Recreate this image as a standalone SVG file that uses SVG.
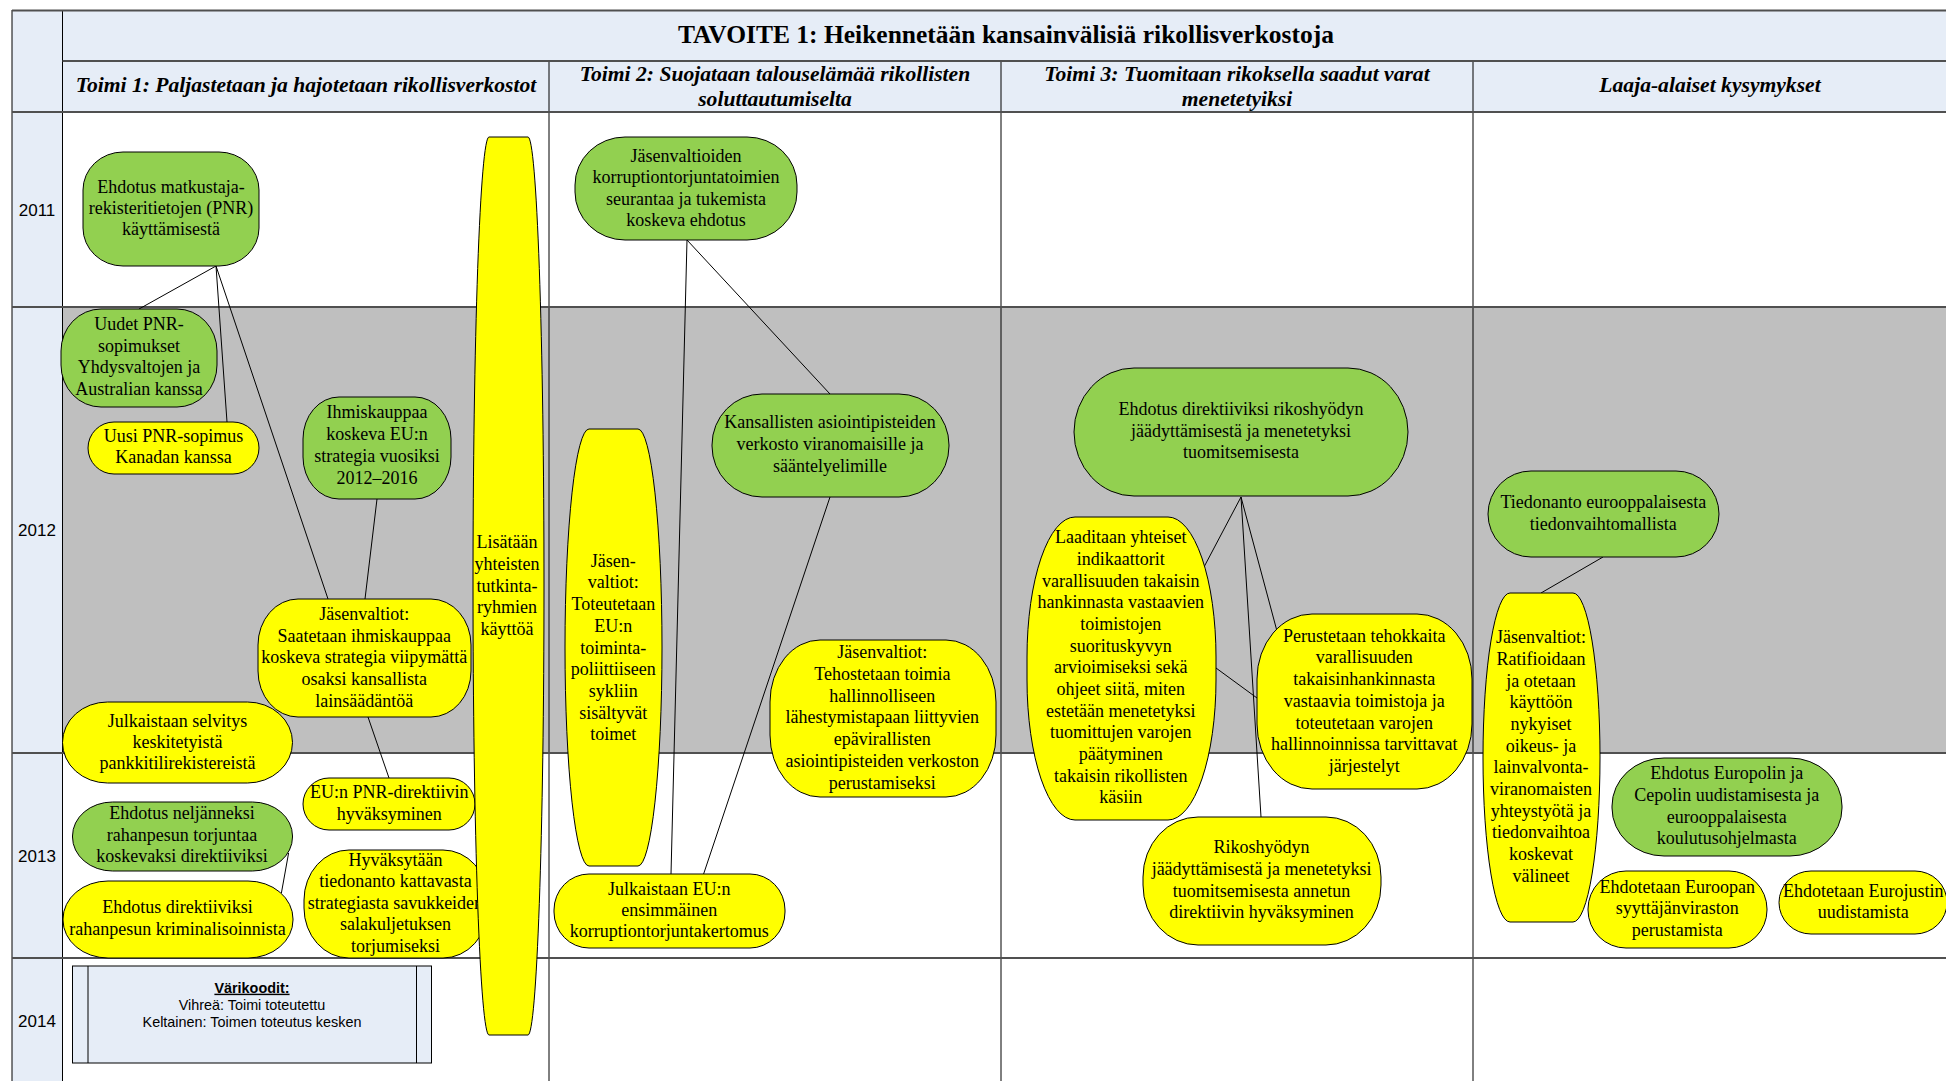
<svg xmlns="http://www.w3.org/2000/svg" width="1946" height="1081" viewBox="0 0 1946 1081">
<style>
.hd{fill:#E6EDF7}
.gray{fill:#BFBFBF}
.hl{stroke:#505050;stroke-width:2;fill:none}
.vl{stroke:#000;stroke-width:1;fill:none}
.g{fill:#92D050;stroke:#000;stroke-width:1}
.y{fill:#FFFF00;stroke:#000;stroke-width:1}
.t{font-family:"Liberation Serif","Times New Roman",serif;font-size:18px;text-anchor:middle;fill:#000}
.ttl{font-family:"Liberation Serif","Times New Roman",serif;font-size:25.5px;font-weight:bold;text-anchor:middle;fill:#000}
.sub{font-family:"Liberation Serif","Times New Roman",serif;font-size:21.6px;font-weight:bold;font-style:italic;text-anchor:middle;fill:#000}
.yr{font-family:"Liberation Sans",Arial,sans-serif;font-size:17px;text-anchor:middle;fill:#000}
.lg{font-family:"Liberation Sans",Arial,sans-serif;font-size:14.4px;text-anchor:middle;fill:#000}
.c{stroke:#000;stroke-width:1;fill:none}
</style>
<rect x="0" y="0" width="1946" height="1081" fill="#fff"/>
<g id="table">
<rect class="hd" x="62.5" y="10" width="1890" height="102"/>
<rect class="hd" x="12" y="10" width="50.5" height="1075"/>
<rect class="gray" x="62.5" y="307" width="1890" height="446"/>
<line class="vl" x1="12" y1="10" x2="12" y2="1085"/>
<line class="vl" x1="62.5" y1="10" x2="62.5" y2="1085"/>
<line class="vl" x1="549" y1="61" x2="549" y2="1085"/>
<line class="vl" x1="1001" y1="61" x2="1001" y2="1085"/>
<line class="vl" x1="1473" y1="61" x2="1473" y2="1085"/>
<line class="hl" x1="12" y1="10.5" x2="1950" y2="10.5" stroke="#222"/>
<line class="hl" x1="62.5" y1="61" x2="1950" y2="61"/>
<line class="hl" x1="12" y1="112" x2="1950" y2="112"/>
<line class="hl" x1="12" y1="307" x2="1950" y2="307"/>
<line class="hl" x1="12" y1="753" x2="1950" y2="753"/>
<line class="hl" x1="12" y1="958" x2="1950" y2="958"/>
<text class="ttl" x="1006" y="42.5">TAVOITE 1: Heikennetään kansainvälisiä rikollisverkostoja</text>
<text class="sub" x="306" y="92">Toimi 1: Paljastetaan ja hajotetaan rikollisverkostot</text>
<text class="sub" x="775" y="80.5">Toimi 2: Suojataan talouselämää rikollisten<tspan x="775" y="105.5">soluttautumiselta</tspan></text>
<text class="sub" x="1237" y="80.5">Toimi 3: Tuomitaan rikoksella saadut varat<tspan x="1237" y="105.5">menetetyiksi</tspan></text>
<text class="sub" x="1710" y="92">Laaja-alaiset kysymykset</text>
<text class="yr" x="37" y="215.5">2011</text>
<text class="yr" x="37" y="536">2012</text>
<text class="yr" x="37" y="861.5">2013</text>
<text class="yr" x="37" y="1026.5">2014</text>
</g>
<g id="connectors">
<line class="c" x1="216" y1="266" x2="139" y2="309"/>
<line class="c" x1="216" y1="266" x2="227" y2="422"/>
<line class="c" x1="216" y1="266" x2="328" y2="599"/>
<line class="c" x1="377" y1="499" x2="365" y2="599"/>
<line class="c" x1="368" y1="717" x2="389" y2="778"/>
<line class="c" x1="288.6" y1="853" x2="281.4" y2="893"/>
<line class="c" x1="687" y1="240" x2="671" y2="874"/>
<line class="c" x1="687" y1="240" x2="830" y2="394"/>
<line class="c" x1="830" y1="497" x2="703.6" y2="874"/>
<line class="c" x1="1241" y1="497" x2="1204" y2="567"/>
<line class="c" x1="1241" y1="497" x2="1276.7" y2="630"/>
<line class="c" x1="1241" y1="497" x2="1261" y2="817"/>
<line class="c" x1="1216" y1="668" x2="1257" y2="698"/>
<line class="c" x1="1603" y1="557" x2="1541" y2="593"/>
</g>
<g id="n1"><rect class="g" x="83" y="152" width="176" height="114" rx="40" ry="38"/>
<text class="t" x="171" y="193">Ehdotus matkustaja-<tspan x="171" dy="21.2">rekisteritietojen (PNR)</tspan><tspan x="171" dy="21.2">käyttämisestä</tspan></text></g>
<g id="n2"><rect class="g" x="61" y="309" width="156" height="98" rx="40" ry="42"/>
<text class="t" x="139" y="330">Uudet PNR-<tspan x="139" dy="21.5">sopimukset</tspan><tspan x="139" dy="21.5">Yhdysvaltojen ja</tspan><tspan x="139" dy="21.5">Australian kanssa</tspan></text></g>
<g id="n3"><rect class="y" x="88" y="422" width="171" height="52" rx="26" ry="26"/>
<text class="t" x="173.6" y="441.7">Uusi PNR-sopimus<tspan x="173.6" dy="21.7">Kanadan kanssa</tspan></text></g>
<g id="n4"><rect class="g" x="303" y="397" width="148" height="102" rx="36" ry="42"/>
<text class="t" x="377" y="418.3">Ihmiskauppaa<tspan x="377" dy="21.7">koskeva EU:n</tspan><tspan x="377" dy="21.7">strategia vuosiksi</tspan><tspan x="377" dy="22.5">2012–2016</tspan></text></g>
<g id="n5"><rect class="y" x="258" y="599" width="213" height="118" rx="40" ry="46"/>
<text class="t" x="364.3" y="620">Jäsenvaltiot:<tspan x="364.3" dy="21.7">Saatetaan ihmiskauppaa</tspan><tspan x="364.3" dy="21.7">koskeva strategia viipymättä</tspan><tspan x="364.3" dy="21.7">osaksi kansallista</tspan><tspan x="364.3" dy="21.7">lainsäädäntöä</tspan></text></g>
<g id="n6"><rect class="y" x="62.5" y="702" width="230" height="81" rx="45" ry="40.5"/>
<text class="t" x="177.5" y="726.7">Julkaistaan selvitys<tspan x="177.5" dy="20.8">keskitetyistä</tspan><tspan x="177.5" dy="21.6">pankkitilirekistereistä</tspan></text></g>
<g id="n7"><rect class="g" x="72.5" y="802" width="220" height="69" rx="40" ry="34"/>
<text class="t" x="182" y="819.3">Ehdotus neljänneksi<tspan x="182" dy="21.4">rahanpesun torjuntaa</tspan><tspan x="182" dy="21.2">koskevaksi direktiiviksi</tspan></text></g>
<g id="n8"><rect class="y" x="63" y="881" width="230" height="77" rx="45" ry="38"/>
<text class="t" x="177.5" y="913.3">Ehdotus direktiiviksi<tspan x="177.5" dy="21.7">rahanpesun kriminalisoinnista</tspan></text></g>
<g id="n9"><rect class="y" x="303" y="778" width="172" height="52" rx="26" ry="26"/>
<text class="t" x="389.3" y="798.3">EU:n PNR-direktiivin<tspan x="389.3" dy="21.7">hyväksyminen</tspan></text></g>
<g id="n10"><rect class="y" x="304" y="850" width="184" height="108" rx="45" ry="50"/>
<text class="t" x="395.4" y="865.7">Hyväksytään<tspan x="395.4" dy="21.5">tiedonanto kattavasta</tspan><tspan x="395.4" dy="21.5">strategiasta savukkeiden</tspan><tspan x="395.4" dy="21.5">salakuljetuksen</tspan><tspan x="395.4" dy="21.5">torjumiseksi</tspan></text></g>
<g id="n11"><rect class="y" x="473" y="137" width="71" height="898" rx="16" ry="449"/>
<text class="t" x="507" y="548.3">Lisätään<tspan x="507" dy="21.7">yhteisten</tspan><tspan x="507" dy="21.7">tutkinta-</tspan><tspan x="507" dy="21.7">ryhmien</tspan><tspan x="507" dy="21.7">käyttöä</tspan></text></g>
<g id="n12"><rect class="g" x="575" y="137" width="222" height="103" rx="50" ry="48"/>
<text class="t" x="686" y="161.7">Jäsenvaltioiden<tspan x="686" dy="21.5">korruptiontorjuntatoimien</tspan><tspan x="686" dy="21.5">seurantaa ja tukemista</tspan><tspan x="686" dy="21.5">koskeva ehdotus</tspan></text></g>
<g id="n13"><rect class="g" x="712" y="394" width="237" height="103" rx="50" ry="51"/>
<text class="t" x="830" y="428.3">Kansallisten asiointipisteiden<tspan x="830" dy="21.7">verkosto viranomaisille ja</tspan><tspan x="830" dy="21.7">sääntelyelimille</tspan></text></g>
<g id="n14"><rect class="y" x="565" y="429" width="97" height="437" rx="24" ry="218"/>
<text class="t" x="613.3" y="566.7">Jäsen-<tspan x="613.3" dy="21.7">valtiot:</tspan><tspan x="613.3" dy="21.7">Toteutetaan</tspan><tspan x="613.3" dy="21.7">EU:n</tspan><tspan x="613.3" dy="21.7">toiminta-</tspan><tspan x="613.3" dy="21.7">poliittiiseen</tspan><tspan x="613.3" dy="21.7">sykliin</tspan><tspan x="613.3" dy="21.7">sisältyvät</tspan><tspan x="613.3" dy="21.7">toimet</tspan></text></g>
<g id="n15"><rect class="y" x="770" y="640" width="226" height="157" rx="50" ry="62"/>
<text class="t" x="882.3" y="658.3">Jäsenvaltiot:<tspan x="882.3" dy="21.7">Tehostetaan toimia</tspan><tspan x="882.3" dy="21.7">hallinnolliseen</tspan><tspan x="882.3" dy="21.7">lähestymistapaan liittyvien</tspan><tspan x="882.3" dy="21.7">epävirallisten</tspan><tspan x="882.3" dy="21.7">asiointipisteiden verkoston</tspan><tspan x="882.3" dy="21.7">perustamiseksi</tspan></text></g>
<g id="n16"><rect class="y" x="554" y="874" width="231" height="74" rx="35" ry="36"/>
<text class="t" x="669.2" y="895">Julkaistaan EU:n<tspan x="669.2" dy="21.2">ensimmäinen</tspan><tspan x="669.2" dy="21.2">korruptiontorjuntakertomus</tspan></text></g>
<g id="n17"><rect class="g" x="1074" y="368" width="334" height="128" rx="60" ry="64"/>
<text class="t" x="1241" y="415">Ehdotus direktiiviksi rikoshyödyn<tspan x="1241" dy="21.7">jäädyttämisestä ja menetetyksi</tspan><tspan x="1241" dy="21.7">tuomitsemisesta</tspan></text></g>
<g id="n18"><rect class="y" x="1027" y="517" width="189" height="303" rx="48" ry="140"/>
<text class="t" x="1120.7" y="543.3">Laaditaan yhteiset<tspan x="1120.7" dy="21.67">indikaattorit</tspan><tspan x="1120.7" dy="21.67">varallisuuden takaisin</tspan><tspan x="1120.7" dy="21.67">hankinnasta vastaavien</tspan><tspan x="1120.7" dy="21.67">toimistojen</tspan><tspan x="1120.7" dy="21.67">suorituskyvyn</tspan><tspan x="1120.7" dy="21.67">arvioimiseksi sekä</tspan><tspan x="1120.7" dy="21.67">ohjeet siitä, miten</tspan><tspan x="1120.7" dy="21.67">estetään menetetyksi</tspan><tspan x="1120.7" dy="21.67">tuomittujen varojen</tspan><tspan x="1120.7" dy="21.67">päätyminen</tspan><tspan x="1120.7" dy="21.67">takaisin rikollisten</tspan><tspan x="1120.7" dy="21.67">käsiin</tspan></text></g>
<g id="n19"><rect class="y" x="1257" y="614" width="215" height="175" rx="55" ry="65"/>
<text class="t" x="1364.3" y="641.7">Perustetaan tehokkaita<tspan x="1364.3" dy="21.7">varallisuuden</tspan><tspan x="1364.3" dy="21.7">takaisinhankinnasta</tspan><tspan x="1364.3" dy="21.7">vastaavia toimistoja ja</tspan><tspan x="1364.3" dy="21.7">toteutetaan varojen</tspan><tspan x="1364.3" dy="21.7">hallinnoinnissa tarvittavat</tspan><tspan x="1364.3" dy="21.7">järjestelyt</tspan></text></g>
<g id="n20"><rect class="y" x="1143" y="817" width="238" height="128" rx="55" ry="60"/>
<text class="t" x="1261.6" y="853.3">Rikoshyödyn<tspan x="1261.6" dy="21.7">jäädyttämisestä ja menetetyksi</tspan><tspan x="1261.6" dy="21.7">tuomitsemisesta annetun</tspan><tspan x="1261.6" dy="21.7">direktiivin hyväksyminen</tspan></text></g>
<g id="n21"><rect class="g" x="1488" y="471" width="231" height="86" rx="43" ry="43"/>
<text class="t" x="1603.3" y="508.3">Tiedonanto eurooppalaisesta<tspan x="1603.3" dy="21.7">tiedonvaihtomallista</tspan></text></g>
<g id="n22"><rect class="y" x="1483" y="593" width="117" height="329" rx="27" ry="164"/>
<text class="t" x="1541" y="643.3">Jäsenvaltiot:<tspan x="1541" dy="21.67">Ratifioidaan</tspan><tspan x="1541" dy="21.67">ja otetaan</tspan><tspan x="1541" dy="21.67">käyttöön</tspan><tspan x="1541" dy="21.67">nykyiset</tspan><tspan x="1541" dy="21.67">oikeus- ja</tspan><tspan x="1541" dy="21.67">lainvalvonta-</tspan><tspan x="1541" dy="21.67">viranomaisten</tspan><tspan x="1541" dy="21.67">yhteystyötä ja</tspan><tspan x="1541" dy="21.67">tiedonvaihtoa</tspan><tspan x="1541" dy="21.67">koskevat</tspan><tspan x="1541" dy="21.67">välineet</tspan></text></g>
<g id="n23"><rect class="g" x="1612" y="758" width="230" height="98" rx="52" ry="48"/>
<text class="t" x="1726.7" y="779.3">Ehdotus Europolin ja<tspan x="1726.7" dy="21.7">Cepolin uudistamisesta ja</tspan><tspan x="1726.7" dy="21.7">eurooppalaisesta</tspan><tspan x="1726.7" dy="21.7">koulutusohjelmasta</tspan></text></g>
<g id="n24"><rect class="y" x="1588" y="871" width="179" height="77" rx="38" ry="38"/>
<text class="t" x="1677.3" y="892.7">Ehdotetaan Euroopan<tspan x="1677.3" dy="21.7">syyttäjänviraston</tspan><tspan x="1677.3" dy="21.7">perustamista</tspan></text></g>
<g id="n25"><rect class="y" x="1779" y="871" width="168" height="63" rx="32" ry="31.5"/>
<text class="t" x="1863.3" y="896.7">Ehdotetaan Eurojustin<tspan x="1863.3" dy="21.7">uudistamista</tspan></text></g>
<g id="legend"><rect class="hd" x="72.5" y="966" width="359" height="97" stroke="#000" stroke-width="1"/>
<line class="vl" x1="88" y1="966" x2="88" y2="1063"/>
<line class="vl" x1="416.5" y1="966" x2="416.5" y2="1063"/>
<text class="lg" x="252" y="992.7" font-weight="bold" text-decoration="underline">Värikoodit:</text>
<text class="lg" x="252" y="1009.5">Vihreä: Toimi toteutettu</text>
<text class="lg" x="252" y="1027.3">Keltainen: Toimen toteutus kesken</text></g>
</svg>
